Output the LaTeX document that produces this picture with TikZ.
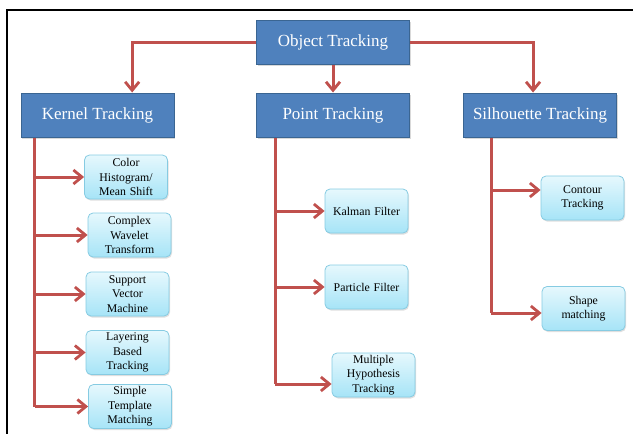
\documentclass[tikz,border=0pt]{standalone}
\usepackage{fontspec}
\setmainfont{Liberation Serif}
\usetikzlibrary{arrows.meta,calc,shadows}
\definecolor{hdrfill}{HTML}{4F81BD}
\definecolor{hdrline}{HTML}{3A6592}
\definecolor{leaftop}{HTML}{E6F8FD}
\definecolor{leafbot}{HTML}{A6E4F7}
\definecolor{leafline}{HTML}{86CBE2}
\definecolor{linkred}{HTML}{C0504D}
\tikzset{
  header/.style={draw=hdrline, line width=1pt, fill=hdrfill, text=white,
    minimum width=153pt, minimum height=44pt, inner sep=0pt,
    font=\fontsize{17}{20}\selectfont,
    drop shadow={opacity=0.3, shadow xshift=1pt, shadow yshift=-1.5pt}},
  leaf/.style={draw=leafline, line width=0.8pt, rounded corners=5pt,
    top color=leaftop, bottom color=leafbot,
    minimum width=83pt, minimum height=44pt, inner sep=0pt,
    text width=82pt, align=center, text=black,
    font=\fontsize{11.8}{14.5}\selectfont,
    drop shadow={opacity=0.25, shadow xshift=1pt, shadow yshift=-1.5pt}},
  link/.style={draw=linkred, line width=3pt},
  arr/.style={link, -{Straight Barb[length=8.5pt, width=14pt, line width=2.8pt]}},
}
\begin{document}
\begin{tikzpicture}[x=1pt, y=-1pt]
  \useasboundingbox (0,0) rectangle (633,434);
  % page frame
  \draw[line width=2pt] (7,434) -- (7,10) -- (633,10);

  % main categories
  \node[header] (obj)  at (333,42)   {Object Tracking};
  \node[header] (kern) at (97.5,115) {Kernel Tracking};
  \node[header] (pt)   at (333,115)  {Point Tracking};
  \node[header] (sil)  at (540,115)  {Silhouette Tracking};

  % kernel methods
  \node[leaf] (k1) at (126,177)   {Color\\Histogram/\\Mean Shift};
  \node[leaf] (k2) at (129.5,235) {Complex\\Wavelet\\Transform};
  \node[leaf] (k3) at (127.5,294) {Support\\Vector\\Machine};
  \node[leaf] (k4) at (127.5,352.5) {Layering\\Based\\Tracking};
  \node[leaf] (k5) at (130,406.5) {Simple\\Template\\Matching};

  % point methods
  \node[leaf] (p1) at (366.5,211) {Kalman Filter};
  \node[leaf] (p2) at (366.5,287) {Particle Filter};
  \node[leaf] (p3) at (373.5,375) {Multiple\\Hypothesis\\Tracking};

  % silhouette methods
  \node[leaf] (s1) at (582.5,198)   {Contour\\Tracking};
  \node[leaf] (s2) at (583.5,308.5) {Shape\\matching};

  % top-level links
  \coordinate (kin) at ($(kern.north west)!0.725!(kern.north east)$);
  \coordinate (sin) at ($(sil.north west)!0.455!(sil.north east)$);
  \draw[arr] (obj.west) -| (kin);
  \draw[arr] (obj.south) -- (pt.north);
  \draw[arr] (obj.east) -| (sin);

  % kernel trunk and branches
  \coordinate (kt) at ($(kern.south west)+(14,0)$);
  \draw[link] (kt) -- (kt |- k5.west);
  \foreach \n in {k1,k2,k3,k4,k5}
    \draw[arr] (kt |- \n.west) -- (\n.west);

  % point trunk and branches
  \coordinate (ptr) at ($(pt.south west)+(19,0)$);
  \draw[link] (ptr) -- ($(ptr |- p3.west)+(0,-9pt)$);
  \draw[arr] (ptr |- p1.west) -- (p1.west);
  \draw[arr] (ptr |- p2.west) -- (p2.west);
  \draw[arr] ($(ptr |- p3.west)+(0,-9pt)$) -- ([yshift=-9pt]p3.west);

  % silhouette trunk and branches
  \coordinate (st) at ($(sil.south west)+(28,0)$);
  \draw[link] (st) -- ($(st |- s2.west)+(0,-4.5pt)$);
  \draw[arr] ($(st |- s1.west)+(0,8pt)$) -- ([yshift=8pt]s1.west);
  \draw[arr] ($(st |- s2.west)+(0,-4.5pt)$) -- ([yshift=-4.5pt]s2.west);
\end{tikzpicture}
\end{document}
